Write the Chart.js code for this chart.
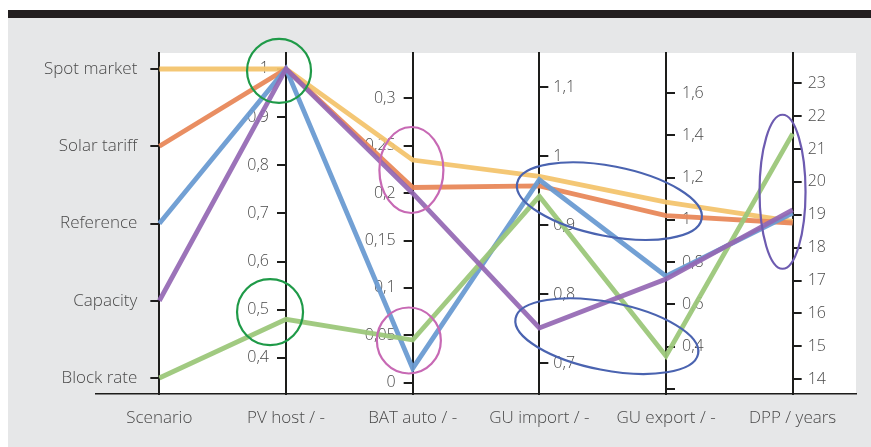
<!DOCTYPE html>
<html>
<head>
<meta charset="utf-8">
<script src="https://cdn.jsdelivr.net/npm/chart.js@4.4.0/dist/chart.umd.min.js"></script>
<style>
  html, body { margin: 0; padding: 0; background: #fff; }
  #wrap { position: relative; width: 871px; height: 447px; }
  #bar { position: absolute; left: 8px; top: 10px; width: 863px; height: 8px; background: #231f20; }
  #panel { position: absolute; left: 8px; top: 18px; width: 863px; height: 429px; background: #e6e7e8; }
  canvas { position: absolute; left: 0; top: 0; }
</style>
</head>
<body>
<div id="wrap">
  <div id="bar"></div>
  <div id="panel"></div>
  <canvas id="chart" width="871" height="447"></canvas>
</div>
<script>
// axes (left to right) and scenarios (top to bottom of first axis)
const axisNames = ['Scenario', 'PV host / -', 'BAT auto / -', 'GU import / -', 'GU export / -', 'DPP / years'];
const scenarios = ['Spot market', 'Solar tariff', 'Reference', 'Capacity', 'Block rate'];

// one value per scenario, same order as above
const pvHost   = [1, 1, 1, 1, 0.48];
const batAuto  = [0.235, 0.206, 0.015, 0.2, 0.045];
const guImport = [0.971, 0.957, 0.966, 0.751, 0.942];
const guExport = [1.084, 1.02, 0.734, 0.72, 0.356];
const dpp      = [18.8, 18.75, 19.05, 19.15, 21.47];

const lineColors = [
  'rgba(243,196,110,0.95)', // spot market
  'rgba(232,136,90,0.95)',  // solar tariff
  'rgba(106,155,210,0.95)', // reference
  'rgba(148,103,179,0.92)', // capacity
  'rgba(156,199,122,0.95)'  // block rate
];
const drawOrder = [0, 1, 2, 4, 3];

// highlight rings: x = axis position (index), y = value on that axis' scale
const rings = [
  { x: 0.945, axis: 'y1', y: 0.996, rx: 32, ry: 32, rot: 0,  color: '#1f9a48' },
  { x: 0.874, axis: 'y1', y: 0.495, rx: 33, ry: 33, rot: 0,  color: '#1f9a48' },
  { x: 1.99,  axis: 'y2', y: 0.2245, rx: 32, ry: 43, rot: 0, color: '#c769b4' },
  { x: 1.97,  axis: 'y2', y: 0.0445, rx: 32, ry: 33, rot: 0, color: '#c769b4' },
  { x: 3.553, axis: 'y3', y: 0.935, rx: 94, ry: 35, rot: 11, color: '#4a63b0' },
  { x: 3.533, axis: 'y3', y: 0.739, rx: 93, ry: 34, rot: 11, color: '#4a63b0' },
  { x: 4.92,  axis: 'y5', y: 19.7, rx: 23, ry: 77, rot: 0,  color: '#6d5bb0' }
];

const FONT = "'Open Sans', 'DejaVu Sans', sans-serif";
const INK = '#1d1d1b';
const TXT = '#4a4a4a';

const comma = v => String(Math.round(v * 100) / 100).replace('.', ',');

function yAxis(side, min, max, step, fmt, pad, size) {
  return {
    type: 'linear',
    position: side,
    min, max,
    afterFit: s => { s.width = 0; },
    border: { display: true, color: INK, width: 2 },
    grid: { drawOnChartArea: false, drawTicks: true, tickLength: 9, color: INK, lineWidth: 2 },
    ticks: {
      stepSize: step, includeBounds: false, autoSkip: false,
      color: TXT, padding: pad,
      font: { family: FONT, size: size || 16, weight: 300 },
      callback: fmt
    }
  };
}

const scales = {
  x: {
    type: 'category',
    labels: axisNames,
    offset: true,
    afterFit: s => { s.height = 53; },
    border: { display: true, color: INK, width: 1.5 },
    grid: { display: true, drawOnChartArea: false, drawTicks: false },
    ticks: { color: TXT, padding: 14, font: { family: FONT, size: 17, weight: 300 } }
  },
  y0: Object.assign(yAxis('left', -0.207, 4.207, 1, v => scenarios[v] ?? '', 13, 17), { reverse: true }),
  y1: yAxis('left', 0.325, 1.033, 0.1, comma, 8),
  y2: yAxis('left', -0.012, 0.348, 0.05, comma, 8),
  y3: yAxis('right', 0.655, 1.15, 0.1, comma, 5),
  y4: yAxis('right', 0.176, 1.79, 0.2, v => v < 0.3 ? '' : comma(v), 7),
  y5: yAxis('right', 13.55, 23.92, 1, v => String(v), 6)
};

// put every vertical axis onto its own category position
const placeAxes = {
  id: 'placeAxes',
  afterLayout(chart) {
    const xs = chart.scales.x;
    axisNames.forEach((_, i) => {
      const s = chart.scales['y' + i];
      const px = xs.getPixelForValue(i);
      if (s.options.position === 'left') { s.right = px; s.left = px - 120; }
      else { s.left = px; s.right = px + 120; }
      s.width = 120;
    });
  },
  beforeDraw(chart) {
    const { ctx, chartArea: a, scales: { x } } = chart;
    const l = x.getPixelForValue(0);
    ctx.save();
    ctx.fillStyle = '#fff';
    ctx.fillRect(l, a.top, a.right - l, a.bottom - a.top);
    ctx.restore();
  }
};

const parallelLines = {
  id: 'parallelLines',
  afterDatasetsDraw(chart) {
    const { ctx, scales } = chart;
    const cols = [scenarios.map((_, i) => i), pvHost, batAuto, guImport, guExport, dpp];
    ctx.save();
    ctx.lineWidth = 4.8;
    ctx.lineJoin = 'miter';
    ctx.miterLimit = 3;
    drawOrder.forEach(s => {
      ctx.beginPath();
      cols.forEach((col, i) => {
        const px = scales.x.getPixelForValue(i);
        const py = scales['y' + i].getPixelForValue(col[s]);
        if (i === 0) ctx.moveTo(px, py); else ctx.lineTo(px, py);
      });
      ctx.strokeStyle = lineColors[s];
      ctx.stroke();
    });
    ctx.lineWidth = 2.2;
    rings.forEach(r => {
      const cx = scales.x.getPixelForValue(r.x);
      const cy = scales[r.axis].getPixelForValue(r.y);
      ctx.beginPath();
      ctx.ellipse(cx, cy, r.rx, r.ry, r.rot * Math.PI / 180, 0, Math.PI * 2);
      ctx.strokeStyle = r.color;
      ctx.stroke();
    });
    ctx.restore();
  }
};

new Chart(document.getElementById('chart'), {
  type: 'line',
  data: {
    labels: axisNames,
    datasets: scenarios.map((name, i) => ({
      label: name, data: [], yAxisID: 'y0', borderColor: lineColors[i]
    }))
  },
  options: {
    responsive: false,
    animation: false,
    layout: { padding: { left: 96, right: 15, top: 53, bottom: 0 } },
    plugins: { legend: { display: false }, tooltip: { enabled: false } },
    scales
  },
  plugins: [placeAxes, parallelLines]
});
</script>
</body>
</html>
